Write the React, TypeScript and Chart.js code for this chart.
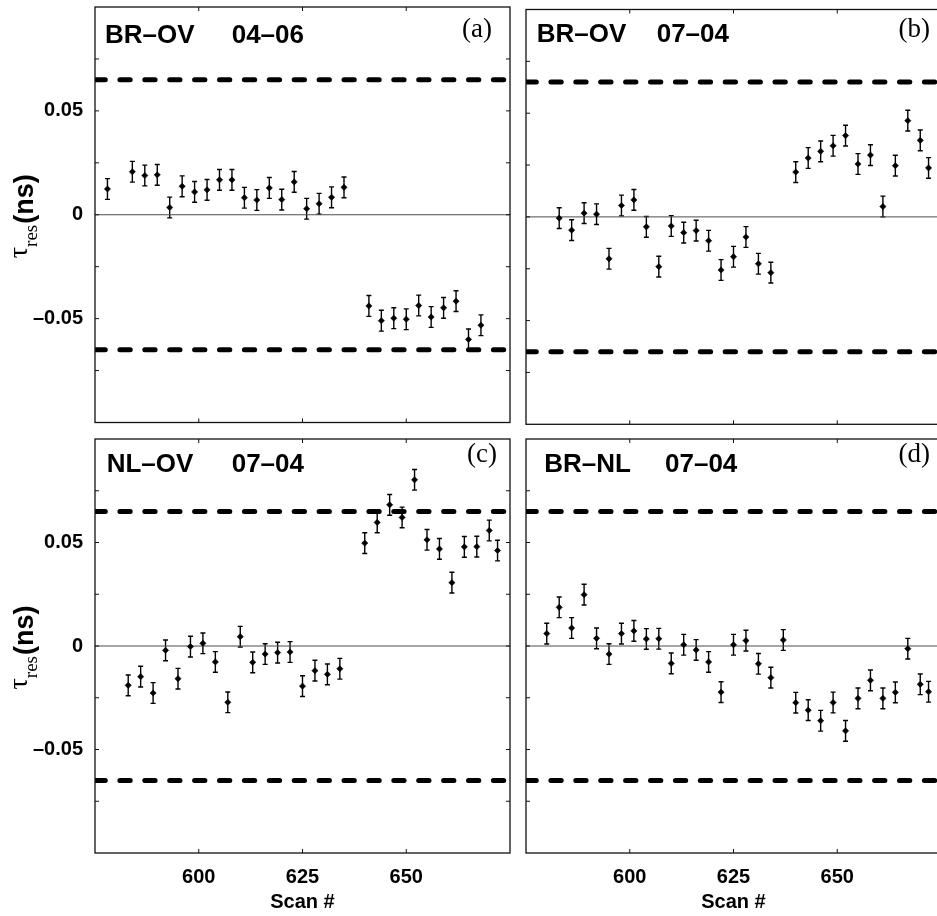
import { useEffect, useRef } from "react";
import { Chart, registerables } from "chart.js";

Chart.register(...registerables);

// ---------------- data ----------------
const SCAN_A = [578, 584, 587, 590, 593, 596, 599, 602, 605, 608, 611, 614, 617, 620, 623, 626, 629, 632, 635, 641, 644, 647, 650, 653, 656, 659, 662, 665, 668];
const TAU_A = [0.0124, 0.0207, 0.0189, 0.0192, 0.0035, 0.0137, 0.011, 0.012, 0.0168, 0.0168, 0.0082, 0.0071, 0.0129, 0.0073, 0.0158, 0.0029, 0.0053, 0.0084, 0.0132, -0.0439, -0.051, -0.0498, -0.0503, -0.0437, -0.0492, -0.0448, -0.0416, -0.06, -0.0532];
const ERR_A = [0.005, 0.005, 0.005, 0.005, 0.005, 0.005, 0.005, 0.005, 0.005, 0.005, 0.005, 0.005, 0.005, 0.005, 0.005, 0.005, 0.005, 0.005, 0.005, 0.005, 0.005, 0.005, 0.005, 0.005, 0.005, 0.005, 0.005, 0.005, 0.005];

const SCAN_B = [583, 586, 589, 592, 595, 598, 601, 604, 607, 610, 613, 616, 619, 622, 625, 628, 631, 634, 640, 643, 646, 649, 652, 655, 658, 661, 664, 667, 670, 672];
const TAU_B = [-0.0006, -0.0064, 0.0018, 0.0013, -0.0202, 0.0055, 0.0082, -0.0048, -0.024, -0.0044, -0.0076, -0.0066, -0.0115, -0.0256, -0.0192, -0.0097, -0.0226, -0.0269, 0.0216, 0.0284, 0.0316, 0.0343, 0.0392, 0.0255, 0.0298, 0.005, 0.0247, 0.0464, 0.0369, 0.0236];
const ERR_B = [0.005, 0.005, 0.005, 0.005, 0.005, 0.005, 0.005, 0.005, 0.005, 0.005, 0.005, 0.005, 0.005, 0.005, 0.005, 0.005, 0.005, 0.005, 0.005, 0.005, 0.005, 0.005, 0.005, 0.005, 0.005, 0.005, 0.005, 0.005, 0.005, 0.005];

const SCAN_C = [583, 586, 589, 592, 595, 598, 601, 604, 607, 610, 613, 616, 619, 622, 625, 628, 631, 634, 640, 643, 646, 649, 652, 655, 658, 661, 664, 667, 670, 672];
const TAU_C = [-0.019, -0.0148, -0.0227, -0.0021, -0.0158, -0.0003, 0.0013, -0.0077, -0.0272, 0.0045, -0.0079, -0.0039, -0.0032, -0.0029, -0.0194, -0.0119, -0.0137, -0.011, 0.0497, 0.0597, 0.0682, 0.0621, 0.0803, 0.0513, 0.0469, 0.0306, 0.0479, 0.048, 0.0558, 0.0461];
const ERR_C = [0.005, 0.005, 0.005, 0.005, 0.005, 0.005, 0.005, 0.005, 0.005, 0.005, 0.005, 0.005, 0.005, 0.005, 0.005, 0.005, 0.005, 0.005, 0.005, 0.005, 0.005, 0.005, 0.005, 0.005, 0.005, 0.005, 0.005, 0.005, 0.005, 0.005];

const SCAN_D = [580, 583, 586, 589, 592, 595, 598, 601, 604, 607, 610, 613, 616, 619, 622, 625, 628, 631, 634, 637, 640, 643, 646, 649, 652, 655, 658, 661, 664, 667, 670, 672];
const TAU_D = [0.006, 0.0187, 0.0087, 0.0248, 0.0037, -0.0039, 0.006, 0.0073, 0.0034, 0.0035, -0.0084, 0.0006, -0.0019, -0.0077, -0.0223, 0.0006, 0.0026, -0.0086, -0.0153, 0.0029, -0.0274, -0.031, -0.0361, -0.0273, -0.041, -0.0253, -0.0166, -0.0253, -0.0224, -0.0013, -0.0185, -0.0221];
const ERR_D = [0.005, 0.005, 0.005, 0.005, 0.005, 0.005, 0.005, 0.005, 0.005, 0.005, 0.005, 0.005, 0.005, 0.005, 0.005, 0.005, 0.005, 0.005, 0.005, 0.005, 0.005, 0.005, 0.005, 0.005, 0.005, 0.005, 0.005, 0.005, 0.005, 0.005, 0.005, 0.005];

const LIMIT = 0.065;
const X_MIN = 575;
const X_MAX = 675;
const Y_MIN = -0.1;
const Y_MAX = 0.1;
const X_TICKS = [600, 625, 650];
const Y_TICKS = [-0.075, -0.05, -0.025, 0, 0.025, 0.05, 0.075];
const Y_LABEL_VALUES = [-0.05, 0, 0.05];
const Y_LABEL_TEXT = ["\u20130.05", "0", "0.05"];
const PANEL_NAMES = ["BR\u2013OV", "BR\u2013OV", "NL\u2013OV", "BR\u2013NL"];
const PANEL_DATES = ["04\u201306", "07\u201304", "07\u201304", "07\u201304"];
const PANEL_LETTERS = ["(a)", "(b)", "(c)", "(d)"];
const X_TITLE = "Scan #";

// ---------------- layout ----------------
const CANVAS_W = 960;
const CANVAS_H = 916;
const SANS = '"Liberation Sans", Arial, Helvetica, sans-serif';
const SERIF = '"Liberation Serif", "Times New Roman", serif';

type Area = { left: number; top: number; right: number; bottom: number };
type Spec = {
  scans: number[];
  tau: number[];
  err: number[];
  name: string;
  date: string;
  letter: string;
  area: Area;
  showX: boolean;
  showY: boolean;
  nameX: number;
  dateX: number;
  titleY: number;
  letterRight: number;
  letterY: number;
};

const SPECS: Spec[] = [
  { scans: SCAN_A, tau: TAU_A, err: ERR_A, name: PANEL_NAMES[0], date: PANEL_DATES[0], letter: PANEL_LETTERS[0],
    area: { left: 95, top: 7, right: 510, bottom: 422.5 }, showX: false, showY: true,
    nameX: 105, dateX: 231.7, titleY: 42.7, letterRight: 492, letterY: 37 },
  { scans: SCAN_B, tau: TAU_B, err: ERR_B, name: PANEL_NAMES[1], date: PANEL_DATES[1], letter: PANEL_LETTERS[1],
    area: { left: 526, top: 9.5, right: 941, bottom: 424.3 }, showX: false, showY: false,
    nameX: 536.7, dateX: 656.7, titleY: 42.3, letterRight: 930, letterY: 37 },
  { scans: SCAN_C, tau: TAU_C, err: ERR_C, name: PANEL_NAMES[2], date: PANEL_DATES[2], letter: PANEL_LETTERS[2],
    area: { left: 95, top: 439, right: 510, bottom: 853 }, showX: true, showY: true,
    nameX: 106.7, dateX: 231.7, titleY: 472.3, letterRight: 497, letterY: 462 },
  { scans: SCAN_D, tau: TAU_D, err: ERR_D, name: PANEL_NAMES[3], date: PANEL_DATES[3], letter: PANEL_LETTERS[3],
    area: { left: 526, top: 439, right: 941, bottom: 853 }, showX: true, showY: false,
    nameX: 544.3, dateX: 665, titleY: 472.3, letterRight: 930, letterY: 462 },
];

function drawYLabel(ctx: CanvasRenderingContext2D, bx: number, cy: number) {
  ctx.save();
  ctx.translate(bx, cy);
  ctx.rotate(-Math.PI / 2);
  const fTau = `28px ${SERIF}`;
  const fRes = `19px ${SERIF}`;
  const fNs = `bold 27px ${SANS}`;
  ctx.font = fTau;
  const wTau = ctx.measureText("\u03C4").width;
  ctx.font = fRes;
  const wRes = ctx.measureText("res").width;
  ctx.font = fNs;
  const wNs = ctx.measureText("(ns)").width;
  const total = wTau + wRes + 1 + wNs;
  let u = -total / 2;
  ctx.fillStyle = "#000";
  ctx.textAlign = "left";
  ctx.textBaseline = "alphabetic";
  ctx.font = fTau;
  ctx.fillText("\u03C4", u, -6);
  u += wTau;
  ctx.font = fRes;
  ctx.fillText("res", u, 3.5);
  u += wRes + 1;
  ctx.font = fNs;
  ctx.fillText("(ns)", u, 0);
  ctx.restore();
}

function buildConfig(p: Spec): any {
  const pts = p.scans.map((x, i) => ({ x, y: p.tau[i] }));
  const decor = {
    id: "decor",
    beforeDatasetsDraw(chart: any) {
      const ctx: CanvasRenderingContext2D = chart.ctx;
      const xs = chart.scales.x;
      const ys = chart.scales.y;
      const a = chart.chartArea;
      ctx.save();
      ctx.beginPath();
      ctx.rect(a.left, a.top, a.right - a.left, a.bottom - a.top);
      ctx.clip();
      ctx.strokeStyle = "#000";
      ctx.lineWidth = 1.4;
      p.scans.forEach((s, i) => {
        const x = xs.getPixelForValue(s);
        const y1 = ys.getPixelForValue(p.tau[i] + p.err[i]);
        const y2 = ys.getPixelForValue(p.tau[i] - p.err[i]);
        ctx.beginPath();
        ctx.moveTo(x, y1);
        ctx.lineTo(x, y2);
        ctx.moveTo(x - 2.5, y1);
        ctx.lineTo(x + 2.5, y1);
        ctx.moveTo(x - 2.5, y2);
        ctx.lineTo(x + 2.5, y2);
        ctx.stroke();
      });
      ctx.restore();
    },
    afterDraw(chart: any) {
      const ctx: CanvasRenderingContext2D = chart.ctx;
      const xs = chart.scales.x;
      const ys = chart.scales.y;
      const a = chart.chartArea;
      ctx.save();
      // frame
      ctx.strokeStyle = "#111";
      ctx.lineWidth = 1.3;
      ctx.strokeRect(a.left, a.top, a.right - a.left, a.bottom - a.top);
      // inward ticks
      ctx.lineWidth = 1;
      ctx.beginPath();
      Y_TICKS.forEach((v) => {
        const y = ys.getPixelForValue(v);
        ctx.moveTo(a.left, y);
        ctx.lineTo(a.left + 4, y);
        ctx.moveTo(a.right - 4, y);
        ctx.lineTo(a.right, y);
      });
      X_TICKS.forEach((v) => {
        const x = xs.getPixelForValue(v);
        ctx.moveTo(x, a.top);
        ctx.lineTo(x, a.top + 4);
        ctx.moveTo(x, a.bottom - 4);
        ctx.lineTo(x, a.bottom);
      });
      ctx.stroke();
      // panel title
      ctx.fillStyle = "#000";
      ctx.textAlign = "left";
      ctx.textBaseline = "alphabetic";
      ctx.font = `bold 26px ${SANS}`;
      ctx.fillText(p.name, p.nameX, p.titleY);
      ctx.fillText(p.date, p.dateX, p.titleY);
      // letter
      ctx.font = `27px ${SERIF}`;
      ctx.textAlign = "right";
      ctx.fillText(p.letter, p.letterRight, p.letterY);
      ctx.restore();
      if (p.showY) {
        drawYLabel(ctx, 33, (a.top + a.bottom) / 2 + 1.5);
      }
    },
  };

  const lineDs = (y: number, color: string, width: number, dash: number[], cap: string) => ({
    type: "line",
    data: [
      { x: X_MIN, y },
      { x: X_MAX, y },
    ],
    borderColor: color,
    borderWidth: width,
    borderDash: dash,
    borderCapStyle: cap,
    pointRadius: 0,
    showLine: true,
    fill: false,
    clip: 0,
  });

  const zeroPad = (scale: any) => {
    scale.paddingTop = 0;
    scale.paddingBottom = 0;
    scale.paddingLeft = 0;
    scale.paddingRight = 0;
  };

  return {
    type: "scatter",
    data: {
      datasets: [
        {
          data: pts,
          pointStyle: "rectRot",
          pointRadius: 3.1,
          pointHoverRadius: 3.1,
          backgroundColor: "#000",
          borderColor: "#000",
          borderWidth: 0.6,
          showLine: false,
          clip: 0,
        },
        lineDs(LIMIT, "#000", 5, [10.3, 14.6], "round"),
        lineDs(-LIMIT, "#000", 5, [10.3, 14.6], "round"),
        lineDs(0, "#4d4d4d", 1, [], "butt"),
      ],
    },
    options: {
      responsive: false,
      animation: false,
      devicePixelRatio: 1,
      events: [],
      layout: {
        padding: {
          left: p.showY ? 0 : p.area.left,
          top: p.area.top,
          right: CANVAS_W - p.area.right,
          bottom: p.showX ? 0 : CANVAS_H - p.area.bottom,
        },
      },
      plugins: { legend: { display: false }, tooltip: { enabled: false } },
      scales: {
        x: {
          type: "linear",
          min: X_MIN,
          max: X_MAX,
          display: p.showX,
          afterBuildTicks: (scale: any) => {
            scale.ticks = X_TICKS.map((v) => ({ value: v }));
          },
          afterFit: (scale: any) => {
            scale.height = p.showX ? CANVAS_H - p.area.bottom : 0;
            zeroPad(scale);
          },
          ticks: {
            autoSkip: false,
            maxRotation: 0,
            minRotation: 0,
            padding: 12,
            color: "#000",
            font: { family: SANS, size: 20, weight: "bold" },
            callback: (v: number) => String(v),
          },
          grid: { display: false, drawTicks: false },
          border: { display: false },
          title: {
            display: true,
            text: X_TITLE,
            color: "#000",
            font: { family: SANS, size: 20, weight: "bold" },
            padding: { top: 0, bottom: 2 },
          },
        },
        y: {
          type: "linear",
          min: Y_MIN,
          max: Y_MAX,
          display: p.showY,
          afterBuildTicks: (scale: any) => {
            scale.ticks = Y_TICKS.map((v) => ({ value: v }));
          },
          afterFit: (scale: any) => {
            scale.width = p.showY ? p.area.left : 0;
            zeroPad(scale);
          },
          ticks: {
            autoSkip: false,
            padding: 12,
            color: "#000",
            font: { family: SANS, size: 20, weight: "bold" },
            callback: (v: number) => {
              const k = Y_LABEL_VALUES.findIndex((t) => Math.abs(t - v) < 1e-9);
              return k >= 0 ? Y_LABEL_TEXT[k] : null;
            },
          },
          grid: { display: false, drawTicks: false },
          border: { display: false },
        },
      },
    },
    plugins: [decor],
  };
}

function Panel({ spec }: { spec: Spec }) {
  const ref = useRef<HTMLCanvasElement>(null);
  useEffect(() => {
    if (!ref.current) return;
    const chart = new Chart(ref.current, buildConfig(spec));
    return () => chart.destroy();
  }, [spec]);
  return (
    <canvas
      ref={ref}
      width={CANVAS_W}
      height={CANVAS_H}
      style={{ position: "absolute", left: 0, top: 0, width: CANVAS_W, height: CANVAS_H }}
    />
  );
}

export default function App() {
  return (
    <div
      style={{
        position: "absolute",
        left: 0,
        top: 0,
        width: 937,
        height: 916,
        overflow: "hidden",
        background: "#fff",
      }}
    >
      {SPECS.map((s, i) => (
        <Panel key={i} spec={s} />
      ))}
    </div>
  );
}
